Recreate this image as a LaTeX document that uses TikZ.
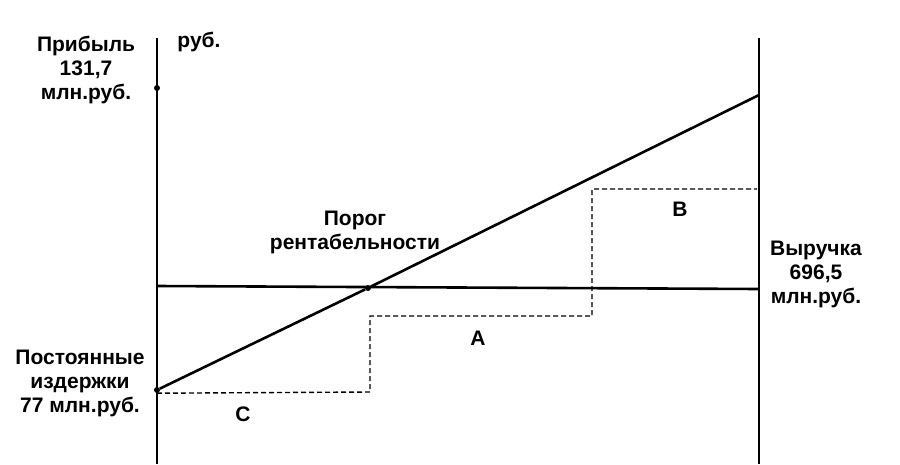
\documentclass[tikz,border=0pt]{standalone}
\usepackage{fontspec}
\setmainfont{Liberation Sans}
\begin{document}
\begin{tikzpicture}[x=1pt,y=-1pt,
  ln/.style={line width=2.6pt},
  dl/.style={dashed,line width=1.4pt,dash pattern=on 5pt off 3pt},
  lbl/.style={font=\fontsize{21}{24}\selectfont\bfseries,align=center,inner sep=0pt},
  dot/.style={circle,fill,inner sep=0pt,minimum size=6pt}]
\useasboundingbox[fill=white] (0,0) rectangle (900,464);
\coordinate (lt) at (157,38); \coordinate (lb) at (157,464);
\coordinate (rt) at (759,38); \coordinate (rb) at (759,464);
\draw[ln] (lt) -- (lb);
\draw[ln] (rt) -- (rb);
\coordinate (h1) at (157,286); \coordinate (h2) at (759,289);
\draw[ln] (h1) -- (h2);
\node[dot] (f) at (157,390) {};
\node[dot] (be) at (368,288) {};
\node[dot] (p) at (157,88) {};
\coordinate (r) at (759,95);
\draw[ln] (f) -- (be) -- (r);
\coordinate (d1) at (370,392); \coordinate (d2) at (370,316);
\coordinate (d3) at (592,316); \coordinate (d4) at (592,189);
\coordinate (d5) at (757,189);
\draw[dl] (f.south) -- (d1) -- (d2) -- (d3) -- (d4) -- (d5);
\node[lbl] (t1) at (86,70) {Прибыль\\131,7\\млн.руб.};
\node[lbl] (t2) at (199,42) {руб.};
\node[lbl] (t3) at (355,232) {Порог\\рентабельности};
\node[lbl] (t4) at (680,209) {B};
\node[lbl] (t5) at (816,274) {Выручка\\696,5\\млн.руб.};
\node[lbl] (t6) at (478,338) {A};
\node[lbl] (t7) at (80,383) {Постоянные\\издержки\\77 млн.руб.};
\node[lbl] (t8) at (243,414) {C};
\end{tikzpicture}
\end{document}
